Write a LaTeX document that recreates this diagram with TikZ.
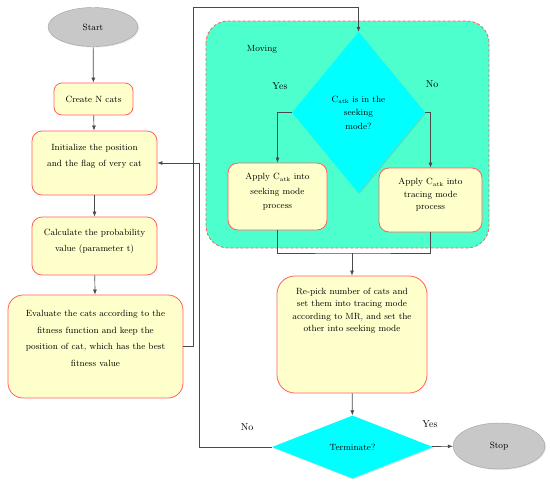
\documentclass[tikz,border=0pt]{standalone}
\usetikzlibrary{shapes.geometric, arrows.meta, positioning, calc, shadows}
\definecolor{boxfill}{HTML}{FFFFCC}
\definecolor{boxline}{HTML}{FF6060}
\definecolor{movfill}{HTML}{4DFFCC}
\definecolor{decfill}{HTML}{00FFFF}
\definecolor{endfill}{HTML}{C8C8C8}
\definecolor{wire}{HTML}{4A4A4A}

\begin{document}
\begin{tikzpicture}[
    x=1pt, y=-1pt,
    box/.style={draw=boxline, line width=0.8pt, fill=boxfill, rounded corners=10pt, align=center, inner sep=2pt, font=\fontsize{9}{16}\selectfont},
    dec/.style={diamond, fill=decfill, inner sep=0pt, align=center, drop shadow={opacity=0.25, shadow xshift=1pt, shadow yshift=-1pt}},
    term/.style={ellipse, draw=endfill!80!black, fill=endfill, font=\fontsize{9}{11}\selectfont, drop shadow={opacity=0.2, shadow xshift=1pt, shadow yshift=-1pt}},
    lbl/.style={font=\fontsize{10}{12}\selectfont},
    arr/.style={-{Latex[length=5pt, width=4pt]}, draw=wire, line width=0.7pt},
    wireline/.style={draw=wire, line width=0.7pt}
]
\useasboundingbox (0,0) rectangle (550,485);

% moving block
\draw[fill=movfill, draw=boxline, line width=0.8pt, dashed, dash pattern=on 3pt off 2pt, rounded corners=22pt] (206,21) rectangle (489,248);
\node[lbl, font=\fontsize{9}{11}\selectfont] (movlbl) at (262,49) {Moving};

% left column
\node[term, minimum width=90, minimum height=39] (start) at (93,27) {Start};
\node[box, rounded corners=8pt, minimum width=79, minimum height=32] (create) at (93.5,99) {Create N cats};
\node[box, minimum width=125, minimum height=64] (init) at (94.5,163) {Initialize the position\\and the flag of very cat\\~};
\node[box, minimum width=125, minimum height=58] (calc) at (94.5,246) {Calculate the probability\\value (parameter t)\\[-4pt]~};
\node[box, rounded corners=15pt, minimum width=175, minimum height=103, font=\fontsize{9}{16.5}\selectfont] (eval) at (95.5,346.5)
    {Evaluate the cats according to the\\fitness function and keep the\\position of cat, which has the best\\fitness value\\~};

% moving part
\node[dec, minimum width=133, minimum height=161, font=\fontsize{9}{13.5}\selectfont] (mode) at (358.5,112.5)
    {C\textsubscript{atk} is in the\\seeking\\mode?};
\node[box, minimum width=99, minimum height=67, font=\fontsize{9}{14.5}\selectfont] (seek) at (277.5,196.5)
    {Apply C\textsubscript{atk} into\\seeking mode\\process\\[-4pt]~};
\node[box, minimum width=103, minimum height=64, font=\fontsize{9}{12.5}\selectfont] (trace) at (430.5,200)
    {Apply C\textsubscript{atk} into\\tracing mode\\process\\[-1pt]~};
\node[lbl] (yes1) at (280,86) {Yes};
\node[lbl] (no1) at (432,84) {No};

% bottom part
\node[box, rounded corners=18pt, minimum width=150, minimum height=117, font=\fontsize{9}{12.5}\selectfont] (repick) at (352,334.5)
    {Re-pick number of cats and\\set them into tracing mode\\according to MR, and set the\\other into seeking mode\\[37pt]~};
\node[dec, aspect=2.5, minimum width=161, minimum height=63, font=\fontsize{9}{11}\selectfont] (stopq) at (352.5,447) {Terminate?};
\node[term, minimum width=92, minimum height=46] (stop) at (499,446) {Stop};
\node[lbl] (no2) at (247,427) {No};
\node[lbl] (yes2) at (430,424) {Yes};

\coordinate (loopup) at (193,7);
\coordinate (backup) at (199,163);
\coordinate (merge) at (352,253);

\draw[arr] (start) -- (create);
\draw[arr] (create) -- (init);
\draw[arr] (init) -- (calc);
\draw[arr] (calc) -- (eval);
\draw[arr] (eval.east) -| (loopup) -| (mode.north);
\draw[arr] (mode.west) -| (seek.north);
\draw[arr] (mode.east) -| (trace.north);
\draw[wireline] (seek.south) |- (merge) -| (trace.south);
\draw[arr] (merge) -- (repick);
\draw[arr] (repick) -- (stopq);
\draw[arr] (stopq) -- (stop);
\draw[arr] (stopq.west) -| (backup) -- (init.east);
\end{tikzpicture}
\end{document}
